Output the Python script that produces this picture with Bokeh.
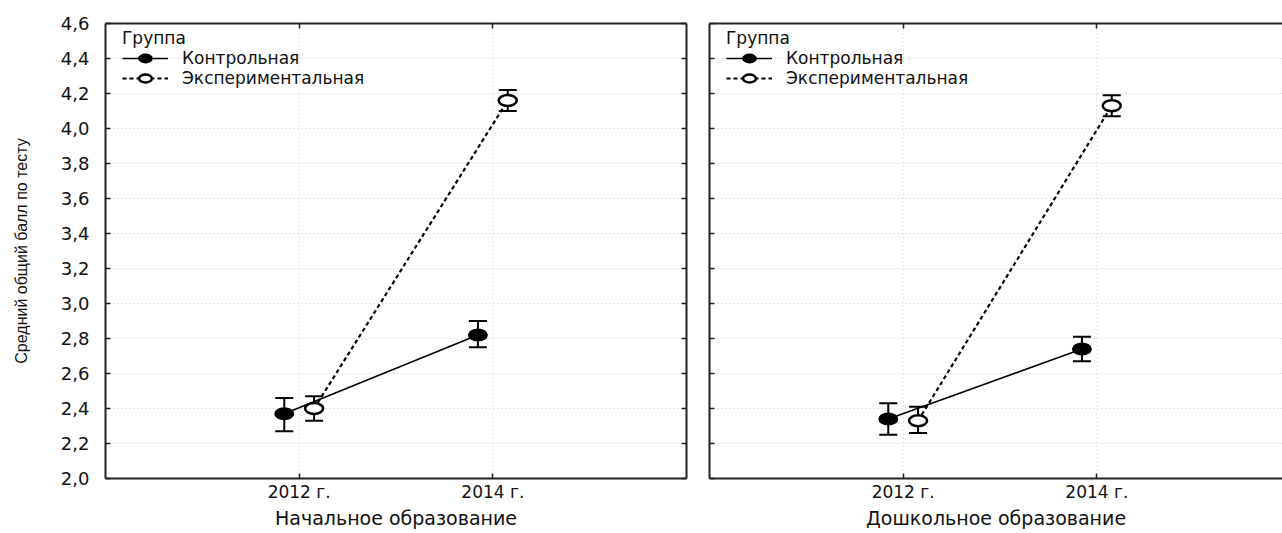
from bokeh.plotting import figure
from bokeh.models import (ColumnDataSource, Range1d, LinearAxis, FixedTicker,
                          Whisker, TeeHead, Legend, LegendItem)
from bokeh.layouts import row
from bokeh.transform import dodge
from bokeh.embed import file_html
from bokeh.resources import INLINE

# ---------------- data ----------------
years = ["2012 г.", "2014 г."]
groups = ["Контрольная", "Экспериментальная"]
legend_title = "Группа"
y_axis_title = "Средний общий балл по тесту"
panel_titles = ["Начальное образование", "Дошкольное образование"]

y_ticks = [2.0, 2.2, 2.4, 2.6, 2.8, 3.0, 3.2, 3.4, 3.6, 3.8, 4.0, 4.2, 4.4, 4.6]
y_tick_labels = ["2,0", "2,2", "2,4", "2,6", "2,8", "3,0", "3,2", "3,4",
                 "3,6", "3,8", "4,0", "4,2", "4,4", "4,6"]

# Начальное образование
prim_ctrl_mean = [2.37, 2.82]
prim_ctrl_lo = [2.27, 2.75]
prim_ctrl_hi = [2.46, 2.90]
prim_exp_mean = [2.40, 4.16]
prim_exp_lo = [2.33, 4.10]
prim_exp_hi = [2.47, 4.22]

# Дошкольное образование
pre_ctrl_mean = [2.34, 2.74]
pre_ctrl_lo = [2.25, 2.67]
pre_ctrl_hi = [2.43, 2.81]
pre_exp_mean = [2.33, 4.13]
pre_exp_lo = [2.26, 4.07]
pre_exp_hi = [2.41, 4.19]

GROUP_DODGE = 0.077
TICK_FONT = "DejaVu Sans"
AXIS_COLOR = "#222222"


def make_src(mean, lo, hi):
    return ColumnDataSource(dict(xi=[i + 1 for i in range(len(years))],
                                 mean=mean, lo=lo, hi=hi))


def hide_labels(a):
    a.major_label_text_color = None
    a.major_label_text_font_size = "1px"
    a.major_label_standoff = 0


def make_panel(idx, ctrl, exp, width, mbl, mbr, x_end, show_ylabels, right_axis):
    p = figure(width=width, height=533, output_backend="svg", toolbar_location=None,
               x_range=Range1d(0, x_end), y_range=Range1d(2.0, 4.6),
               min_border_left=mbl, min_border_right=mbr,
               min_border_top=23, min_border_bottom=55,
               x_axis_location=None, y_axis_location=None)
    p.outline_line_color = None
    p.background_fill_color = "white"
    p.border_fill_color = "white"

    # axes
    xb = LinearAxis(ticker=FixedTicker(ticks=[1, 2]),
                    major_label_overrides={1: years[0], 2: years[1]})
    xb.axis_label = panel_titles[idx]
    xt = LinearAxis(ticker=FixedTicker(ticks=[1, 2]))
    yl = LinearAxis(ticker=FixedTicker(ticks=y_ticks),
                    major_label_overrides={t: l for t, l in zip(y_ticks, y_tick_labels)})
    axes = [xb, xt, yl]
    yr = None
    if right_axis:
        yr = LinearAxis(ticker=FixedTicker(ticks=y_ticks))
        axes.append(yr)
    for a in axes:
        a.axis_line_color = AXIS_COLOR
        a.axis_line_width = 2
        a.major_tick_in = 5
        a.major_tick_out = 0
        a.major_tick_line_color = AXIS_COLOR
        a.major_tick_line_width = 1.5
        a.minor_tick_line_color = None
        a.major_label_text_font = TICK_FONT
        a.major_label_text_font_size = "18px"
        a.major_label_text_color = "#111111"
    hide_labels(xt)
    if yr is not None:
        hide_labels(yr)
    xb.major_label_text_font_size = "17px"
    xb.major_label_standoff = 3
    xb.axis_label_standoff = 2
    xb.axis_label_text_font = TICK_FONT
    xb.axis_label_text_font_size = "19px"
    xb.axis_label_text_font_style = "normal"
    xb.axis_label_text_color = "#111111"
    if show_ylabels:
        yl.major_label_standoff = 16
        yl.axis_label = y_axis_title
        yl.axis_label_text_font = "Liberation Sans"
        yl.axis_label_text_font_size = "16px"
        yl.axis_label_text_font_style = "normal"
        yl.axis_label_text_color = "#111111"
        yl.axis_label_standoff = 28
    else:
        hide_labels(yl)
    p.add_layout(xb, "below")
    p.add_layout(xt, "above")
    p.add_layout(yl, "left")
    if yr is not None:
        p.add_layout(yr, "right")

    # grids
    p.xgrid.ticker = FixedTicker(ticks=[1, 2])
    p.ygrid.ticker = FixedTicker(ticks=y_ticks)
    for g in [p.xgrid, p.ygrid]:
        g.grid_line_color = "#c8c8c8"
        g.grid_line_dash = "1 3"
        g.grid_line_width = 1

    cs = make_src(*ctrl)
    es = make_src(*exp)
    cx = dodge("xi", -GROUP_DODGE)
    ex = dodge("xi", GROUP_DODGE)

    lc = p.line(x=cx, y="mean", source=cs, line_color="black", line_width=1.6)
    le = p.line(x=ex, y="mean", source=es, line_color="black", line_width=2.2,
                line_dash="4 3")
    for src, xx in [(cs, cx), (es, ex)]:
        w = Whisker(source=src, base=xx, upper="hi", lower="lo", dimension="height",
                    line_color="black", line_width=2, level="underlay",
                    upper_head=TeeHead(size=18, line_width=2, line_color="black"),
                    lower_head=TeeHead(size=18, line_width=2, line_color="black"))
        p.add_layout(w)
    mc = p.ellipse(x=cx, y="mean", source=cs, width=18, height=11,
                   width_units="screen", height_units="screen",
                   fill_color="black", line_color="black", line_width=2)
    me = p.ellipse(x=ex, y="mean", source=es, width=18, height=11,
                   width_units="screen", height_units="screen",
                   fill_color="white", line_color="black", line_width=2.5)

    legend = Legend(items=[LegendItem(label=groups[0], renderers=[lc, mc]),
                           LegendItem(label=groups[1], renderers=[le, me])],
                    location=(17, 390), margin=0, padding=0, spacing=0,
                    title=legend_title, title_standoff=0,
                    title_text_font=TICK_FONT, title_text_font_size="17px",
                    title_text_font_style="normal", title_text_color="#111111",
                    label_text_font=TICK_FONT, label_text_font_size="17px",
                    label_text_color="#111111",
                    glyph_width=46, glyph_height=16, label_height=16,
                    label_standoff=14,
                    background_fill_alpha=0, border_line_color=None)
    p.add_layout(legend, "center")
    return p


p1 = make_panel(0, (prim_ctrl_mean, prim_ctrl_lo, prim_ctrl_hi),
                (prim_exp_mean, prim_exp_lo, prim_exp_hi),
                width=697, mbl=105, mbr=11, x_end=3.0, show_ylabels=True, right_axis=True)
p2 = make_panel(1, (pre_ctrl_mean, pre_ctrl_lo, pre_ctrl_hi),
                (pre_exp_mean, pre_exp_lo, pre_exp_hi),
                width=585, mbl=12, mbr=0, x_end=573 / (581 / 3.0),
                show_ylabels=False, right_axis=False)

layout = row(p1, p2)
open("out.html", "w").write(file_html(layout, INLINE))
